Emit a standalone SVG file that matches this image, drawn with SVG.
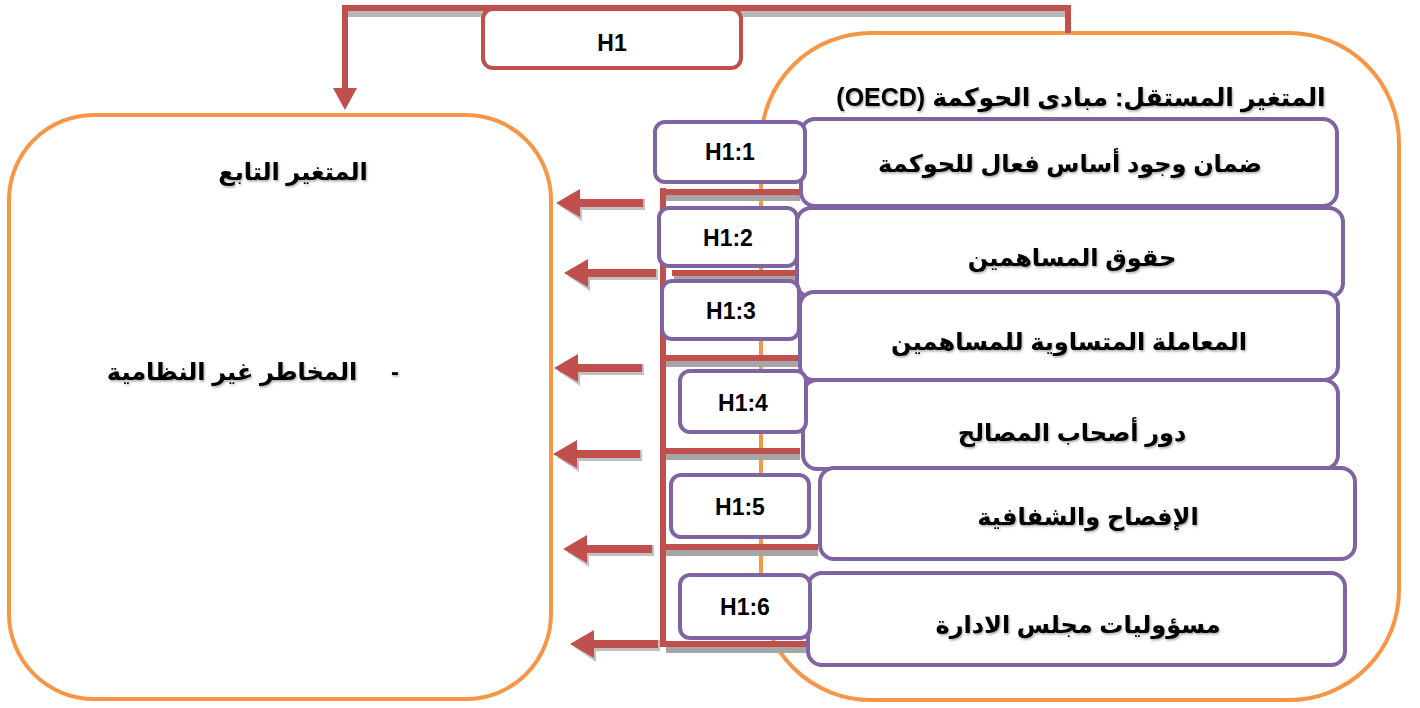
<svg xmlns="http://www.w3.org/2000/svg" width="1420" height="708" viewBox="0 0 1420 708">
<style>
.orange{fill:#fff;stroke:#F79646;stroke-width:4}
.purple{fill:#fff;stroke:#8064A2;stroke-width:4}
.red{fill:none;stroke:#C0504D;stroke-width:6}
.shadow{fill:none;stroke:#A6A6A6;stroke-width:6}
.hl{font-family:"Liberation Sans",Arial,sans-serif;font-weight:bold;font-size:23px;fill:#000;text-anchor:middle}
.ar{font-family:"Liberation Sans","DejaVu Sans",sans-serif;font-weight:bold;font-size:24px;fill:#000;text-anchor:middle;direction:rtl;unicode-bidi:embed;filter:url(#ts)}
.arrow{fill:#C0504D}
.arrowsh{fill:#A6A6A6}
</style>
<defs>
<filter id="ts" x="-5%" y="-20%" width="110%" height="140%">
<feDropShadow dx="1" dy="1.5" stdDeviation="0.8" flood-color="#000" flood-opacity="0.35"/>
</filter>
</defs>

<g id="dependent">
<rect class="orange" x="9" y="115" width="542" height="584" rx="85"/>
<text class="ar" x="293" y="180">المتغير التابع</text>
<text class="ar" x="232" y="380">المخاطر غير النظامية</text>
<text class="ar" x="395" y="380">-</text>
</g>

<g id="independent">
<rect class="orange" x="761" y="33" width="638" height="667" rx="110"/>
<text class="ar" x="1081" y="106" style="font-size:25px">المتغير المستقل: مبادى الحوكمة (OECD)</text>
</g>

<g id="connectors">
<!-- top H1 connector -->
<path class="shadow" d="M347,14 H1066" opacity="0.8"/>
<path class="red" d="M1068,33 V8 H345 V90"/>
<path class="arrow" d="M333,88 L357,88 L345,110 z"/>
<!-- vertical bus -->
<path class="red" d="M663,188 V647"/>
<!-- horizontal branches with shadows -->
<path class="shadow" d="M666,198 H800"/>
<path class="red" d="M663,192 H800"/>
<path class="shadow" d="M674,279 H798"/>
<path class="red" d="M672,273 H798"/>
<path class="shadow" d="M666,364 H798"/>
<path class="red" d="M663,358 H798"/>
<path class="shadow" d="M666,457 H800"/>
<path class="red" d="M663,451 H800"/>
<path class="shadow" d="M666,553 H818"/>
<path class="red" d="M663,547 H818"/>
<path class="shadow" d="M666,650 H808"/>
<path class="red" d="M663,644 H808"/>
<!-- left arrows -->
<g>
<path class="arrowsh" d="M645,199 V210 H582 V221 L560,206 z" opacity="0.7"/>
<path class="arrow" d="M643,199 V207 H580 V217 L556,203 L580,189 V199 z"/>
</g>
<g>
<path class="arrowsh" d="M658,269 V280 H590 V291 L568,276 z" opacity="0.7"/>
<path class="arrow" d="M656,269 V277 H588 V287 L564,273 L588,259 V269 z"/>
</g>
<g>
<path class="arrowsh" d="M644,364 V375 H580 V386 L558,371 z" opacity="0.7"/>
<path class="arrow" d="M642,364 V372 H578 V382 L554,368 L578,354 V364 z"/>
</g>
<g>
<path class="arrowsh" d="M642,450 V461 H579 V472 L557,457 z" opacity="0.7"/>
<path class="arrow" d="M640,450 V458 H577 V468 L553,454 L577,440 V450 z"/>
</g>
<g>
<path class="arrowsh" d="M654,545 V556 H589 V567 L567,552 z" opacity="0.7"/>
<path class="arrow" d="M652,545 V553 H587 V563 L563,549 L587,535 V545 z"/>
</g>
<g>
<path class="arrowsh" d="M660,640 V651 H596 V662 L574,647 z" opacity="0.7"/>
<path class="arrow" d="M658,640 V648 H594 V658 L570,644 L594,630 V640 z"/>
</g>
</g>

<g id="h1">
<rect x="483" y="9" width="258" height="59" rx="10" fill="#fff" stroke="#C0504D" stroke-width="4"/>
<text class="hl" x="612" y="51">H1</text>
</g>

<g id="p1">
<rect class="purple" x="801" y="119" width="536" height="87" rx="14"/>
<text class="ar" x="1070" y="172">ضمان وجود أساس فعال للحوكمة</text>
</g>
<g id="p2">
<rect class="purple" x="797" y="208" width="546" height="89" rx="14"/>
<text class="ar" x="1072" y="266">حقوق المساهمين</text>
</g>
<g id="p3">
<rect class="purple" x="800" y="292" width="538" height="88" rx="14"/>
<text class="ar" x="1069" y="350">المعاملة المتساوية للمساهمين</text>
</g>
<g id="p4">
<rect class="purple" x="803" y="380" width="535" height="89" rx="14"/>
<text class="ar" x="1072" y="441">دور أصحاب المصالح</text>
</g>
<g id="p5">
<rect class="purple" x="820" y="468" width="535" height="91" rx="14"/>
<text class="ar" x="1088" y="525">الإفصاح والشفافية</text>
</g>
<g id="p6">
<rect class="purple" x="808" y="573" width="537" height="92" rx="14"/>
<text class="ar" x="1078" y="633">مسؤوليات مجلس الادارة</text>
</g>

<g id="h11">
<rect class="purple" x="655" y="122" width="150" height="60" rx="10"/>
<text class="hl" x="730" y="160">H1:1</text>
</g>
<g id="h12">
<rect class="purple" x="659" y="208" width="138" height="58" rx="10"/>
<text class="hl" x="728" y="246">H1:2</text>
</g>
<g id="h13">
<rect class="purple" x="662" y="281" width="137" height="58" rx="10"/>
<text class="hl" x="731" y="319">H1:3</text>
</g>
<g id="h14">
<rect class="purple" x="680" y="371" width="126" height="61" rx="10"/>
<text class="hl" x="743" y="411">H1:4</text>
</g>
<g id="h15">
<rect class="purple" x="671" y="475" width="138" height="62" rx="10"/>
<text class="hl" x="740" y="515">H1:5</text>
</g>
<g id="h16">
<rect class="purple" x="680" y="575" width="130" height="63" rx="10"/>
<text class="hl" x="745" y="615">H1:6</text>
</g>
</svg>
